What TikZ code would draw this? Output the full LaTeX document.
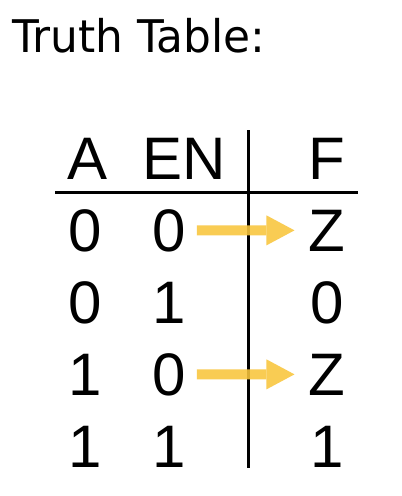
\documentclass[tikz,border=0pt]{standalone}
\usepackage{fontspec}
\setmainfont{Liberation Sans}
\newfontfamily\cellface{Liberation Sans}
\newfontfamily\titleface[FakeStretch=0.975]{DejaVu Sans}
\usepackage{tikz}
\usetikzlibrary{arrows.meta}

\definecolor{arrowgold}{RGB}{249,197,60}
\newcommand{\cellfont}{\cellface\fontsize{60}{72}\selectfont}
\newcommand{\titlefont}{\titleface\fontsize{45}{54}\selectfont}

\begin{document}
\begin{tikzpicture}[x=1pt, y=-1pt,
	cell/.style={anchor=base, inner sep=0pt, font=\cellfont},
	rule/.style={line width=3pt},
	zarrow/.style={line width=10pt, color=arrowgold, opacity=0.88,
		-{Triangle[length=28pt,width=30pt,line width=0pt]}, shorten <=11pt, shorten >=14pt}]
	\useasboundingbox[fill=white] (0,0) rectangle (402,496);

	\node [anchor=base west, inner sep=0pt, font=\titlefont] (title) at (12,52) {Truth Table:};

	% Header
	\node [cell] (hA) at (88,179) {A};
	\node [cell] (hEN) at (184,179) {EN};
	\node [cell] (hF) at (327,179) {F};

	% Rows of the table
	\node [cell] (r1a) at (85,251) {0};
	\node [cell] (r1en) at (169,251) {0};
	\node [cell] (r1f) at (327,251) {Z};

	\node [cell] (r2a) at (85,323) {0};
	\node [cell] (r2en) at (169,323) {1};
	\node [cell] (r2f) at (327,323) {0};

	\node [cell] (r3a) at (85,395) {1};
	\node [cell] (r3en) at (169,395) {0};
	\node [cell] (r3f) at (327,395) {Z};

	\node [cell] (r4a) at (85,467) {1};
	\node [cell] (r4en) at (169,467) {1};
	\node [cell] (r4f) at (327,467) {1};

	% Rules of the table
	\draw [rule] (55,192) -- (358,192);
	\draw [rule] (248,130) -- (248,468);

	% Arrows to the Z outputs
	\draw [zarrow] (r1en) -- (r1f);
	\draw [zarrow] (r3en) -- (r3f);
\end{tikzpicture}
\end{document}
